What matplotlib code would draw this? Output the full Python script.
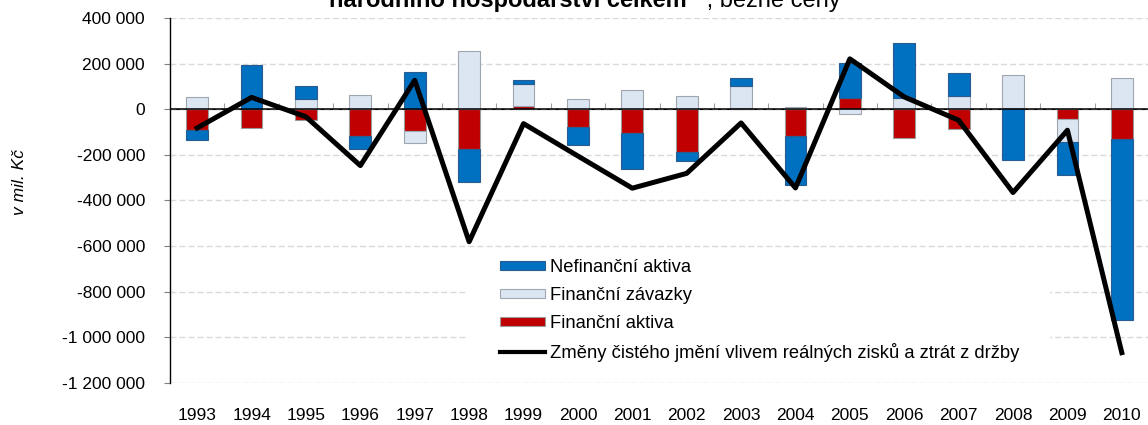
import numpy as np
import matplotlib
matplotlib.use("Agg")
import matplotlib.pyplot as plt
from matplotlib.patches import Patch, Rectangle
from matplotlib.lines import Line2D

plt.rcParams['font.family'] = ['Liberation Sans', 'DejaVu Sans']

years = [str(y) for y in range(1993, 2011)]

# values in mil. Kc
fin_aktiva = [-92000, -83000, -48000, -118000, -97000, -176000, 15000, -76000, -103000,
              -189000, 6000, -118000, 51000, -128000, -86000, 4000, -44000, -132000]
fin_zavazky = [54000, 0, 45000, 63000, -50000, 255000, 96000, 47000, 83000,
               58000, 97000, 12000, -19000, 49000, 58000, 147000, -99000, 138000]
nefin_aktiva = [-43000, 196000, 58000, -58000, 163000, -144000, 16000, -80000, -157000,
                -36000, 32000, -214000, 153000, 242000, 103000, -223000, -144000, -792000]
zmeny = [-82000, 52000, -33000, -247000, 127000, -581000, -63000, -205000, -346000,
         -281000, -60000, -345000, 221000, 54000, -48000, -365000, -92000, -1067000]

yticks = [400000, 200000, 0, -200000, -400000, -600000, -800000, -1000000, -1200000]

series = [
    ("Finanční aktiva", fin_aktiva, "#C00000", "#9a9a9a"),
    ("Finanční závazky", fin_zavazky, "#DCE6F2", "#9ea6b0"),
    ("Nefinanční aktiva", nefin_aktiva, "#0070C0", "#2a5d8f"),
]

W, H = 1148, 425
fig = plt.figure(figsize=(W / 100, H / 100), dpi=100)
ax = fig.add_axes([170 / W, 1 - 383 / H, 979 / W, 365 / H])

x = np.arange(len(years))
pos = np.zeros(len(years))
neg = np.zeros(len(years))
for name, vals, fc, ec in series:
    v = np.array(vals, dtype=float)
    base = np.where(v >= 0, pos, neg)
    ax.bar(x, v, 0.40, bottom=base, color=fc, edgecolor=ec, linewidth=0.8, zorder=2)
    pos = pos + np.where(v >= 0, v, 0)
    neg = neg + np.where(v < 0, v, 0)

ax.axhline(0, color='black', lw=1.1, zorder=3)
ax.plot(x, zmeny, color='black', lw=3.6, zorder=4)

ax.set_xlim(-0.5, len(years) - 0.5)
ax.set_ylim(-1200000, 400000)
ax.set_yticks(yticks)
ax.set_yticklabels([f"{v:,.0f}".replace(",", " ") for v in yticks], fontsize=12.5)
ax.tick_params(axis='y', length=4, width=0.8, color='#808080', pad=14)
ax.set_xticks(x)
ax.set_xticklabels(years, fontsize=12.5)
ax.tick_params(axis='x', length=0, pad=18)

ax.yaxis.grid(True, color='#d9d9d9', linestyle=(0, (4.3, 2.2)), lw=1.0)
ax.set_axisbelow(True)
for s in ['top', 'right', 'bottom']:
    ax.spines[s].set_visible(False)
ax.spines['left'].set_linewidth(1.0)

# category tick marks on the zero line
zero_frac = (0 - ax.get_ylim()[0]) / (ax.get_ylim()[1] - ax.get_ylim()[0])
sec = ax.secondary_xaxis(zero_frac)
sec.set_xticks(x[:-1] + 0.5)
sec.set_xticklabels([])
sec.tick_params(axis='x', length=4, width=0.8, color='#a0a0a0', direction='out')
sec.spines['bottom'].set_visible(False)

ax.set_ylabel("v mil. Kč", fontsize=12.5, style='italic')
ax.yaxis.set_label_coords(-143 / 979, 0.55)

# white legend background
ax.add_patch(Rectangle((0.303, 0.03), 0.596, 0.33, transform=ax.transAxes,
                       facecolor='white', edgecolor='none', zorder=1.5))

handles = [
    Patch(facecolor="#0070C0", edgecolor="#2a5d8f", lw=0.8),
    Patch(facecolor="#DCE6F2", edgecolor="#9ea6b0", lw=0.8),
    Patch(facecolor="#C00000", edgecolor="#9a9a9a", lw=0.8),
    Line2D([], [], color='black', lw=3),
]
labels = ["Nefinanční aktiva", "Finanční závazky", "Finanční aktiva",
          "Změny čistého jmění vlivem reálných zisků a ztrát z držby"]
leg = ax.legend(handles, labels, loc='upper left', bbox_to_anchor=(500 / W, 1 - 259 / H),
                bbox_transform=fig.transFigure, frameon=False, fontsize=13.2,
                handlelength=2.45, handleheight=0.45, handletextpad=0.3,
                labelspacing=0.6, borderpad=0, borderaxespad=0)
leg.set_zorder(5)

fig.text(698 / W, 1 - 7 / H, "národního hospodářství celkem\"", ha='right', va='baseline',
         fontsize=17, fontweight='bold')
fig.text(700 / W, 1 - 7 / H, " , běžné ceny", ha='left', va='baseline', fontsize=17)

fig.savefig("out.png", dpi=100)
